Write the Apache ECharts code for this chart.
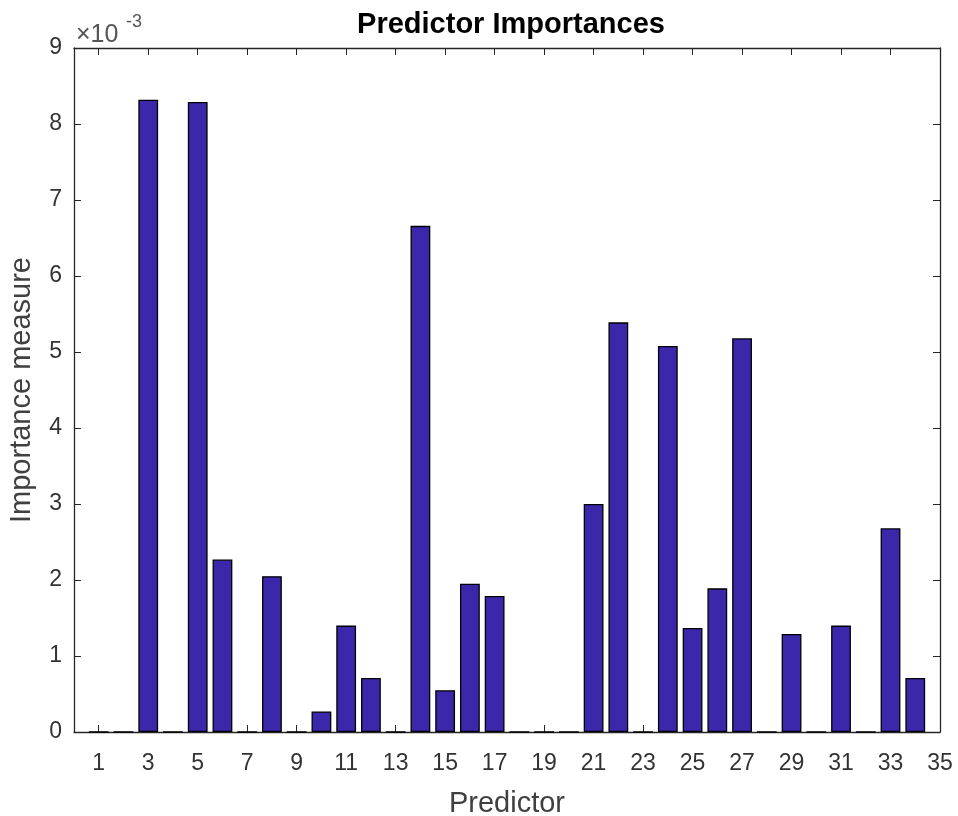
<!DOCTYPE html>
<html><head><meta charset="utf-8">
<script src="https://cdn.jsdelivr.net/npm/echarts@6/dist/echarts.min.js"></script>
<style>html,body{margin:0;padding:0;background:#fff}#c{width:958px;height:816px}</style>
</head><body><div id="c"></div>
<script>
const predictors = [1,2,3,4,5,6,7,8,9,10,11,12,13,14,15,16,17,18,19,20,21,22,23,24,25,26,27,28,29,30,31,32,33,34];
const importance = [0,0,8.32,0,8.29,2.27,0,2.05,0,0.27,1.40,0.71,0,6.66,0.55,1.95,1.79,0,0,0,3.00,5.39,0,5.08,1.37,1.89,5.18,0,1.29,0,1.40,0,2.68,0.71];
const xTicks = [1,3,5,7,9,11,13,15,17,19,21,23,25,27,29,31,33,35];
const yTicks = [0,1,2,3,4,5,6,7,8,9];

const chart = echarts.init(document.getElementById('c'));
const font = 'Liberation Sans, Arial, Helvetica, sans-serif';
const axisCol = '#262626';
const labelCol = '#333333';
const grid = {left:74, right:18, top:48, bottom:84, outerBoundsMode:'none', containLabel:false};
const unitPx = (958 - grid.left - grid.right) / 35;
const lineStyle = {color:axisCol, width:1.3};
chart.setOption({
  animation:false,
  title:{text:'Predictor Importances', left:506, textAlign:'center', top:5,
    textStyle:{fontFamily:font, fontSize:29, fontWeight:'bold', color:'#000'}},
  graphic:[
    {type:'text', left:76, top:23, style:{text:'×10', font:'25px ' + font, fill:'#555555'}},
    {type:'text', left:126, top:13, style:{text:'-3', font:'18px ' + font, fill:'#555555'}}
  ],
  grid:grid,
  xAxis:[{type:'value', min:0, max:35, interval:1, position:'bottom',
    name:'Predictor', nameLocation:'middle', nameGap:57,
    nameTextStyle:{fontFamily:font, fontSize:29, color:'#404040'},
    axisLine:{show:true, onZero:false, lineStyle:lineStyle},
    axisTick:{show:true, inside:true, length:7, customValues:xTicks, lineStyle:{color:axisCol}},
    axisLabel:{show:true, customValues:xTicks, margin:20, fontFamily:font, fontSize:23, color:labelCol},
    splitLine:{show:false}},
   {type:'value', min:0, max:35, interval:1, position:'top',
    axisLine:{show:true, onZero:false, lineStyle:lineStyle},
    axisTick:{show:true, inside:true, length:7, customValues:xTicks, lineStyle:{color:axisCol}},
    axisLabel:{show:false}, splitLine:{show:false}}],
  yAxis:[{type:'value', min:0, max:9, interval:1, position:'left',
    name:'Importance measure', nameLocation:'middle', nameGap:38,
    nameTextStyle:{fontFamily:font, fontSize:29, color:'#404040'},
    axisLine:{show:true, onZero:false, lineStyle:lineStyle},
    axisTick:{show:true, inside:true, length:7, lineStyle:{color:axisCol}},
    axisLabel:{margin:12, fontFamily:font, fontSize:23, color:labelCol},
    splitLine:{show:false}},
   {type:'value', min:0, max:9, interval:1, position:'right',
    axisLine:{show:true, onZero:false, lineStyle:lineStyle},
    axisTick:{show:true, inside:true, length:7, lineStyle:{color:axisCol}},
    axisLabel:{show:false}, splitLine:{show:false}}],
  series:[{type:'bar', xAxisIndex:0, yAxisIndex:0,
    data:predictors.map((p,i)=>[p, importance[i]]),
    barWidth: unitPx*0.8,
    itemStyle:{color:'#3b27a9', borderColor:'#000', borderWidth:1.3}}]
});
</script></body></html>
